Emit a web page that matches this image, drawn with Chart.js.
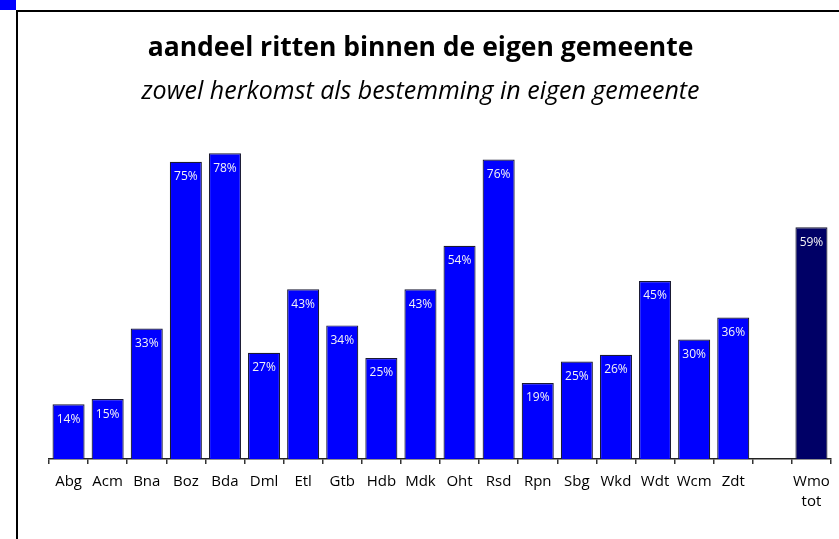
<!DOCTYPE html>
<html>
<head>
<meta charset="utf-8">
<script src="https://cdn.jsdelivr.net/npm/chart.js@4.4.1/dist/chart.umd.min.js"></script>
<style>
  html, body { margin: 0; padding: 0; background: #fff; }
  #wrap { position: relative; width: 839px; height: 539px; overflow: hidden; }
  #c { position: absolute; left: 0; top: 0; }
  .frameTop { position: absolute; left: 16px; top: 10px; width: 823px; height: 2px; background: #000; }
  .frameLeft { position: absolute; left: 16px; top: 10px; width: 2px; height: 529px; background: #000; }
  .corner { position: absolute; left: 0; top: 0; width: 16px; height: 10px; background: #0000ff; }
</style>
</head>
<body>
<div id="wrap">
  <canvas id="c" width="839" height="539"></canvas>
  <div class="corner"></div>
  <div class="frameTop"></div>
  <div class="frameLeft"></div>
</div>
<script>
const categories = ['Abg','Acm','Bna','Boz','Bda','Dml','Etl','Gtb','Hdb','Mdk','Oht','Rsd','Rpn','Sbg','Wkd','Wdt','Wcm','Zdt','',['Wmo','tot']];
const shares = [14.0, 15.3, 33.3, 75.8, 78.0, 27.1, 43.3, 34.1, 25.8, 43.3, 54.4, 76.4, 19.4, 24.9, 26.6, 45.4, 30.5, 36.1, null, 59.1];
const shareLabels = ['14%','15%','33%','75%','78%','27%','43%','34%','25%','43%','54%','76%','19%','25%','26%','45%','30%','36%','','59%'];
const barColors = ['#0000ff','#0000ff','#0000ff','#0000ff','#0000ff','#0000ff','#0000ff','#0000ff','#0000ff','#0000ff','#0000ff','#0000ff','#0000ff','#0000ff','#0000ff','#0000ff','#0000ff','#0000ff','#0000ff','#000066'];
const titleText = 'aandeel ritten binnen de eigen gemeente';
const subtitleText = 'zowel herkomst als bestemming in eigen gemeente';

const valueLabels = {
  id: 'valueLabels',
  afterDatasetsDraw(chart) {
    const ctx = chart.ctx;
    const meta = chart.getDatasetMeta(0);
    ctx.save();
    ctx.font = '12px "Open Sans", sans-serif';
    ctx.fillStyle = '#f4f4f4';
    ctx.textAlign = 'center';
    ctx.textBaseline = 'middle';
    meta.data.forEach((bar, i) => {
      if (shares[i] === null || !shareLabels[i]) return;
      ctx.fillText(shareLabels[i], bar.x, bar.y + 15);
    });
    ctx.restore();
  }
};

new Chart(document.getElementById('c'), {
  type: 'bar',
  data: {
    labels: categories,
    datasets: [{
      data: shares,
      backgroundColor: barColors,
      borderColor: '#1a1a33',
      borderWidth: 1.2,
      borderSkipped: 'bottom',
      barPercentage: 0.82,
      categoryPercentage: 1.0
    }]
  },
  options: {
    responsive: false,
    animation: false,
    layout: { padding: { left: 10, right: 8, top: 22, bottom: 19 } },
    plugins: {
      legend: { display: false },
      tooltip: { enabled: false },
      title: {
        display: true,
        text: titleText,
        color: '#000',
        font: { family: '"Open Sans", sans-serif', size: 26.5, weight: 'bold', lineHeight: 1.2 },
        padding: { top: 11, bottom: 0 }
      },
      subtitle: {
        display: true,
        text: subtitleText,
        color: '#000',
        font: { family: '"Open Sans", sans-serif', size: 25, style: 'italic', lineHeight: 1.2 },
        padding: { top: 12.2, bottom: 38.4 }
      }
    },
    scales: {
      x: {
        offset: true,
        grid: {
          offset: true,
          drawOnChartArea: false,
          drawTicks: true,
          tickLength: 5,
          color: '#333',
          lineWidth: 1.5
        },
        border: { display: true, color: '#222', width: 1.5 },
        ticks: {
          color: '#000',
          padding: 8,
          maxRotation: 0,
          autoSkip: false,
          font: { family: '"Open Sans", sans-serif', size: 15, lineHeight: 1.33 }
        }
      },
      y: {
        display: true,
        min: 0,
        max: 80,
        grid: { display: false, drawTicks: false },
        border: { display: false },
        ticks: { display: false },
        afterFit(scale) { scale.width = 39; }
      }
    }
  },
  plugins: [valueLabels]
});
</script>
</body>
</html>
